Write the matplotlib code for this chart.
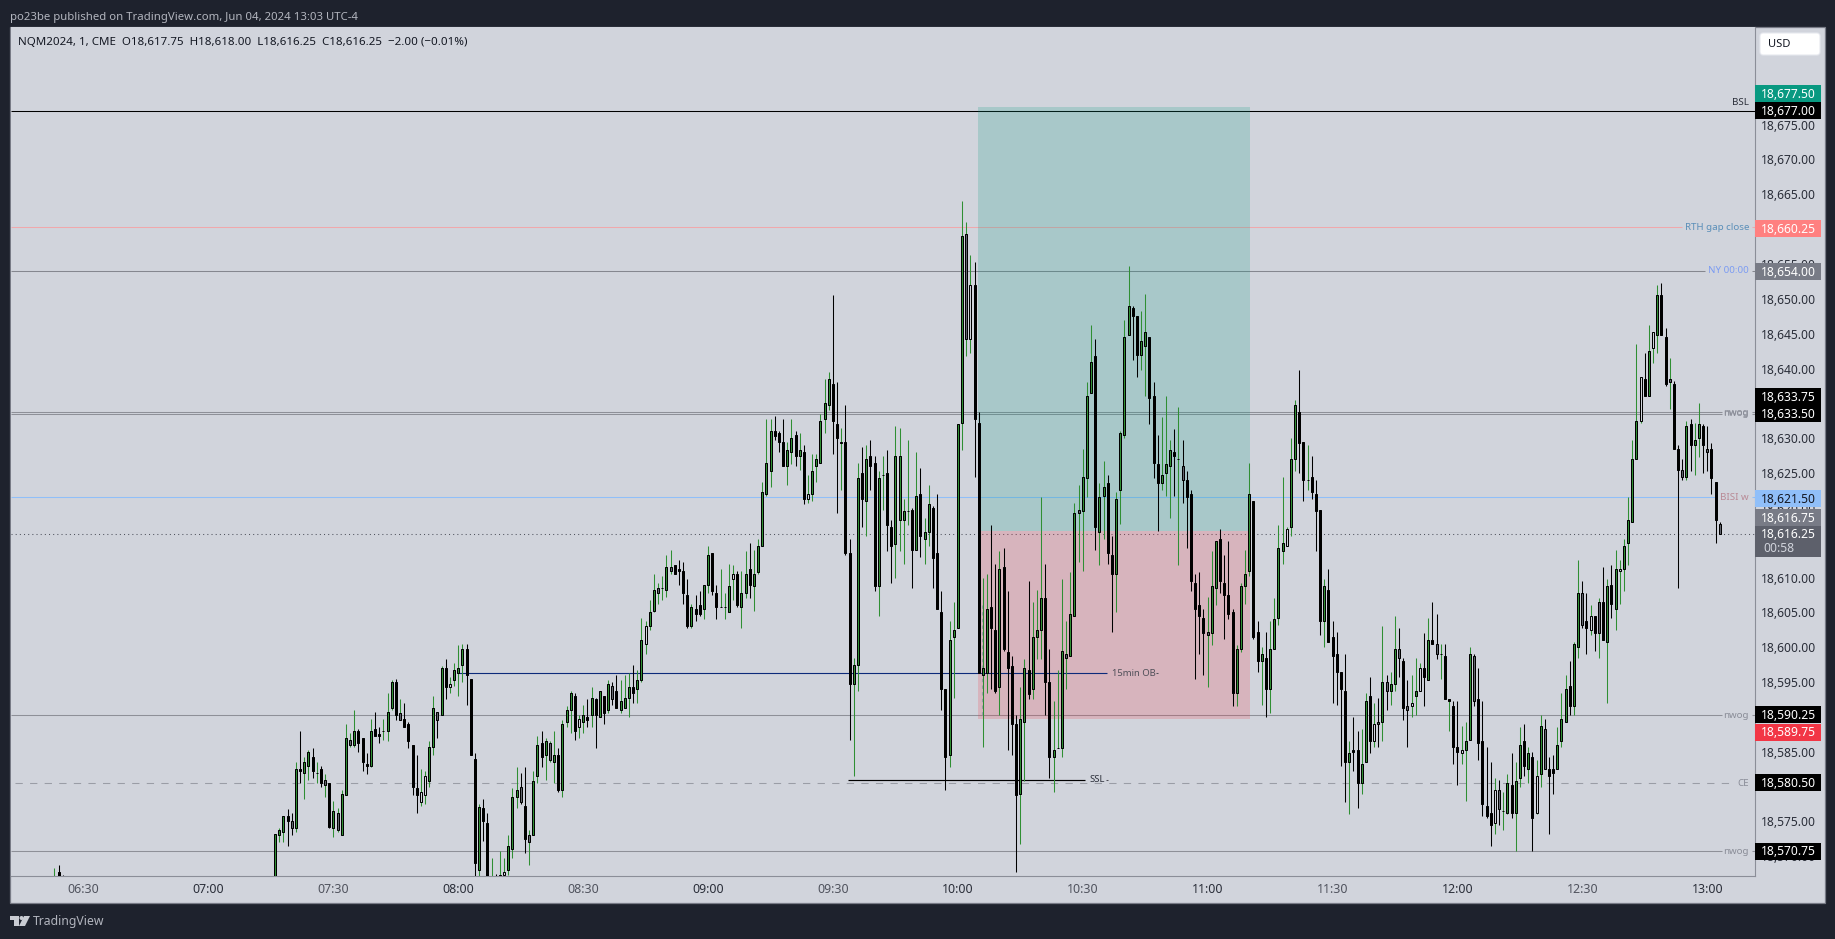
import matplotlib
matplotlib.use("Agg")
import matplotlib.pyplot as plt
from matplotlib.patches import Rectangle, Polygon, Circle, FancyBboxPatch
from matplotlib.transforms import IdentityTransform

# ---------- data ----------
PRICE_BASE = 18000  # the lists below are points above 18,000

bar_minutes = [383, 384, 385] + list(range(436, 784))  # minutes after midnight

bar_highs = [568.25,568.75,567.25,
573.25,574,575.75,576.75,576.25,583.5,588,584.25,585.25,585.5,583.5,583,581.75,580.5,578,577,579.5,589,587.75,591,588.25,587,584.75,589.75,590.75,588.5,589.75,593.5,595.25,595.5,592.5,592,589.25,586,584.5,582.5,582.25,586.5,593,590.75,597.25,598.25,595.75,597.75,600.25,600.5,600.5,595.5,584.75,577.5,578.25,576.25,569.75,567.5,570.75,569.75,573,579.75,582.75,582,582.75,573.75,582.25,587.25,588,587,586.5,588,585.5,589.5,591.5,593.75,593.5,590.25,591.75,592.5,594.25,592.75,593.75,593,595.25,595,596,595.25,596,596.25,597.5,596.75,604.25,603.75,606.75,610.5,609.25,610.25,613.25,614,611.75,612.5,612.25,609.75,606.25,607.5,608,609,614.5,613.5,609,611.25,607.75,612,611.75,611,611,613.75,615,614,615.5,623.75,632.75,632.75,633.25,631,632.75,629.5,632.75,631,630.75,629,624.75,627.75,627.75,633.5,638.5,639.5,650.5,638,631.5,634.75,615.5,598.5,626.5,628.75,629,629.75,627.5,625.25,627.5,628.25,618.25,631.75,631.5,621.25,629.75,620,628,625.75,618.5,623.25,620.25,622,608,594,603.75,606.5,632,664,661,656.25,655.25,633.75,610,610.5,617.5,612,613.75,614.25,608,598.75,590.25,594.25,598.25,609.5,606.5,608.25,621.5,612,599.75,592.25,596.75,609.75,603.75,610.75,620.75,623.25,628.5,638,646.25,644.25,623.5,626.75,624.75,616,622.25,631,647,654.75,649,647.5,648.25,650.75,644.5,638,630.5,633,636,629.75,631.25,634.5,629.75,625.25,622.5,610.5,610.75,605.5,607.25,613.75,615.25,617,613.25,615.25,605.5,600.25,609.25,614,626.5,621,603.75,600,602.25,603.75,607,617.5,624.5,617.25,630,635.5,639.75,629.5,629,627.5,624,619.75,609.75,611.25,603.75,602.25,596.5,599,586.5,590,588,588.25,593.5,595.75,592,592.75,603,596,596.5,604.5,602.75,598.5,595.25,596,598.5,597.75,602,604.25,606.5,604.75,600.5,600.5,592.5,592.25,592.25,588.75,589.25,600,599,597,592.25,585.75,583.5,581.25,581,579.25,581.75,584.75,583.5,588.5,589,585.75,585,583.75,590.25,589.75,584.25,584.5,588.5,593.5,596,598,600.75,612.5,609.5,607.75,606,604.5,607,611.5,609.75,611.75,614,612.5,615.5,621.5,629.75,643.5,638.75,642.25,646.25,645.25,652,652.25,645.75,641.5,638.25,629,627,632.5,632.75,632.25,635,632,631.75,629.25,623.75,618]

bar_body_tops = [564.5,567.75,566,
573.25,573.75,575.75,575.75,575,582.5,582.5,583.5,585,584.25,582,582.5,581,580.5,576.5,576.25,579,587,586.75,588,588,587,583.25,588,588.25,587.5,588,590.75,595,595,590.5,589.75,589,586,579.75,579.25,581.5,585.75,591.25,590.75,597,597,594.75,596.75,597,599.75,599.75,595.5,584,577,577,574.75,564,565,567.25,567.75,571.5,578.5,579.5,580,577.25,573,580.75,586,586.25,586.5,586.25,584.5,584.5,589,591,593.5,593,589.75,590.25,590,592.75,592.5,593.75,593,594.75,594.5,593.75,592.25,592.75,594.25,594.25,595.25,601,603,605,608.25,608.5,608.5,611.5,611.5,611.75,611.25,611,607.5,605.75,605.5,606,609,613.25,613.5,607.75,605.75,605.75,608.75,610.5,610.5,607.75,610.5,611.25,610.5,614.5,622.25,626.5,631,631,630.75,629.5,628.25,630,630.5,628.25,628,622,625.25,627,632.5,635,638.5,637.75,632,629.5,629.5,613.5,597.5,624.25,625,627,627.5,626.5,624.25,624.75,625,617.25,627.5,627.5,619.5,619.5,619.75,621.75,622,616.5,620.5,620,613.5,605,594,601,602.5,632,659,659.25,652,652,632.25,597,605.5,605.75,602.5,611.25,611.5,599.25,597.25,589,589.75,597,596.75,601.5,602.5,607,607,595,585.25,585.5,599.5,599,604.75,619.25,619.75,624.5,636,641,641.75,621.5,623,623.5,613.25,621.25,630.75,644.5,649,648.75,647.5,644,645.25,644.5,636,626.25,624.75,626.25,628.25,628,627,626,624,622,609.25,606,604.25,602.25,608.75,615.25,615.5,609.25,607.5,605,599.75,608.75,610.5,622,621,602.25,599,598.5,599.75,604,614.25,615,617,627,634.75,633.75,629.5,624,624.5,622,619.75,608.75,608.25,601.5,599,596.5,593.75,584.75,585.25,585.25,583.25,592.25,593,589,589.25,595,595,594.75,599.75,599.75,598,591.5,592,593.75,597,597,601,601,600.5,599,598.75,592.5,591.5,585.75,585.25,586.5,599,598.75,592.5,586.5,577.25,576.25,579.5,579.5,576.5,580.5,580.25,580.75,586,586.5,584.75,584.25,581.5,588.75,588.25,582.5,582.5,586,589.75,594,594.5,600.5,607.75,607.75,603.75,604.5,604.5,606.5,606.5,608.75,609,611.25,611.25,614.5,618.25,627,632.5,638.75,638.5,642.5,645.25,650.5,650.5,644.5,638.5,637.75,628.5,625.5,631.75,632,629.75,632,631.75,628.5,628.5,623.75,617.75]

bar_body_bottoms = [563.5,565,565,
555,573,573.5,575,574,574,582.25,582,583,582.25,
582,580.5,580.25,574.25,574,573.75,573,578.75,586,586,
586.25,583.5,583,583,587.25,587.25,588,588,591.25,590.25,
589.5,588.5,586.5,580,578.75,577.75,578.75,580.75,585.75,589.5,
590.25,594.25,594.25,595.25,596.25,597.5,596,584.5,569,568,
575,563,563,564,566.75,567.25,568,571,578.5,577.75,
572.5,572,573,581.5,584.25,584.5,583.75,583.5,579.5,579.5,
589.25,591,588,588.5,589.25,589.5,590.25,590.25,590,590.5,
591,592.5,591.25,591,591.25,592.75,593.5,594,595.25,600.5,
603,605.25,607.75,608.5,608.25,611,610.5,611,607.75,603,
603,604.75,604.75,605.5,609,608,605.75,605.75,605.75,605,
609.75,606,605.75,607.75,609,608.75,610.75,614.5,622,625.25,
630.25,629.5,626,626,628,627.5,627.5,621.25,621.25,622,
626,626.5,632.75,634.75,632.5,630,629.25,613.5,594.75,594.75,
597.5,621.25,621,626,608.75,608.75,624.75,617.5,614.5,614.75,
618.25,618.25,619.5,614,614,616,615.5,616.5,612.75,605.5,
594,584.25,584.5,601.5,602.75,632.25,644.25,644.25,632.75,596.25,
596,596.25,602.75,593.75,594.25,599.75,597,589,578.75,579,
589.25,593.25,594,601.5,602.5,595,584.25,584.25,585.5,585.5,
598.5,598.75,604.5,619.25,619.5,624.25,636.5,617.25,616.5,621.75,
613.5,610.5,610.5,622.5,630.5,644.75,647.5,642,642,643.25,
635.75,626.5,623.5,623.5,625,626,627.5,627,624,621.5,
609.5,605.5,604.5,602,601.75,602,608.5,609.5,607.5,604.75,
593.5,593.5,599.75,608.75,611,601.5,598,598,594,594,
599.75,604.25,613.75,614.5,617.25,627,629.25,624,624,622.25,
619.5,603.75,603.75,600.75,598.75,596.5,594,583.5,583.5,585,
580.5,580.5,583.5,586.5,586.5,589,589.25,593.75,593.75,594.75,
598.5,591.25,591,591.5,593,593.75,595.75,595.25,600.5,599,
599,592.5,592.25,585.75,585,584.75,585.25,586.75,592.25,586.25,
577.5,575.75,574.5,574.75,576.75,576.5,576.25,576.25,576.25,581.25,
583,582.5,575.5,576.25,581.75,582.5,581.5,582,582.5,586.5,
589.25,591.5,591.5,600,603.25,602.75,602.5,602,602,601,
600.75,606.25,605.5,611,611.25,615,618,627,632.5,636,
636,643,644.75,644.75,637.75,638,628.5,625.5,624.5,624.5,
629,629,630,629,628,624.25,618.25,616.25]

bar_lows = [563,564,564,
553,572,572,571.5,573,573.5,580.5,578.25,581,581.25,580.5,580,578.5,574,572.75,573.5,573,578.75,585.75,585.75,585,582.25,581.75,582.75,587.25,586.25,586.75,586.5,591,589.5,589.5,588.5,585.5,578.75,576.25,577.25,577.5,580,584.5,587,590.25,592.5,593.5,594.5,593,595,591.75,584.5,567,566.5,572.25,562,562,563,566,566.5,567.25,569.75,577,577.5,570.5,568.75,573,580.5,582.75,581,583.5,580.5,579.25,578.5,588.5,587.75,586.75,587,587.75,588.5,588.5,585.5,590,589,590.5,591.75,591.25,590.5,591.25,590,592,592,595,599,602.5,605,606.25,606.75,607.25,610.5,610.5,609,606.25,602.75,602.75,603.75,604.5,604,607.75,607.5,604,605.75,604,605,606.75,605.75,602.75,607,607,605.25,610.5,614.5,621.75,623,629.75,628,626,623.25,626.25,626,625.5,620.5,620.75,621,623.75,626.5,630.75,634,627.75,619.25,622.5,613.25,586.75,581.5,593.75,617.25,616,622.5,608,604.5,619.75,613.75,609.25,610,613.75,612,617.5,608.5,614,613,612,614.5,608.5,605.5,591,579.5,582.75,592.75,602.75,628.25,641.75,642.25,624.5,596.25,585.75,593.5,594,593.5,590.25,599.5,585.25,584.5,567.75,571.75,580.75,592.5,592.5,598.25,598.25,590.25,581.25,579.25,585.5,584.25,594,598.75,604.5,612.25,611,621.5,636.5,614,611.75,615.5,612,602.25,605,617.75,630,644.75,641.25,638.75,639.75,636,632,624.25,616.75,622.5,621.75,618.5,621.75,611.75,620.75,614.25,608,595.5,599,596,594.25,600.25,606,607.75,601.25,604,591.5,591.5,599.25,606.25,610.25,601.25,596.5,591.75,590,590.5,599.75,603.25,612,614.5,616,625.25,625,621,622.5,621.25,613.75,601.75,600,600.75,592,591.75,583,577.75,576,582.25,577,579,583.5,584.75,585.75,585.75,586.5,591,591.75,593.75,595.75,589.5,585.75,590,590.25,593.75,591.5,595.25,600.5,598.25,595.5,592.5,588,583.25,580.25,583.25,578,586.75,591.5,583.75,575.75,575.5,571.5,573.25,574.5,573.75,576,575.5,570.75,580,581.5,580.5,570.75,576,580,582.5,573.25,579,582.5,585.75,589.25,590.25,590.25,598.5,602.75,599,601.75,599.5,598.5,601,592,604.25,602.5,606.25,608,611.75,618,627,632.25,636,636,640.75,642.25,644.75,637.5,634.25,628.5,608.5,624,624,625.25,624.75,627.25,625,625.25,622,615,616.25]

# candle look, one letter per bar: u up, d down, k doji, h hollow, g/v grey body (black / green wick)
bar_tones = ("udd"
    "uuudguduud" "kdvduvuuvu" "ddduddkuud" "vddddhhuug" "udhuuudddu"
    "dduduhuuug" "dvuuduvudu" "uudhududud" "ugduuuduuh" "uuvkuvdddd"
    "udduuddkku" "hduuduuuuu" "ddduududhu" "uuuuddhddu" "ududdukddu"
    "uukduduudd" "dduuuuvhdd" "uuddudddd" "u" "uduuudduku" "vuuvuuuduu"
    "dduuuudduu" "ddduuudkgd" "ddddvuuddd" "duuuuddudu" "uuuhuuddkd"
    "ddudddddud" "duudhguguu" "gdghuhdudg" "kdkddhuugd" "dddhgkuduu"
    "dudhugdduu" "uduugdhdvd" "uduhuuuuhd" "uhuddvddgu" "duudgddg")

level_prices = [18677.00, 18660.25, 18654.00, 18633.75, 18633.50, 18621.50, 18590.25, 18570.75]
level_names = ["BSL", "RTH gap close", "NY 00:00", "nwog", "nwog", "BISI w", "nwog", "nwog"]
level_colors = ["#000000", "#f0a8ac", "#85878f", "#8e9098", "#8e9098", "#90bff9", "#8e9098", "#8e9098"]
level_text_colors = ["#2a2e39", "#5b8fb9", "#7c9cf2", "#8a8d98", "#8a8d98", "#b98a96", "#8a8d98", "#8a8d98"]
level_line_ends = [1755, 1682, 1705, 1722, 1722, 1715, 1722, 1722]

ce_price = 18580.50
last_price = 18616.25
box_top, box_entry, box_bottom = 18677.50, 18616.75, 18589.75
ob_price = 18596.25
ssl_price = 18581.00

# price-scale ticks; 18,590 / 18,580 / 18,615 / 18,660 / 18,635 sit fully behind value tags in the reference
price_ticks = [18570, 18575, 18585, 18595, 18600, 18605, 18610, 18620, 18625, 18630, 18640, 18645,
               18650, 18655, 18665, 18670, 18675, 18680]
time_ticks = [390, 420, 450, 480, 510, 540, 570, 600, 630, 660, 690, 720, 750, 780]
time_labels = ["06:30", "07:00", "07:30", "08:00", "08:30", "09:00", "09:30",
               "10:00", "10:30", "11:00", "11:30", "12:00", "12:30", "13:00"]

tag_values = [18677.50, 18677.00, 18660.25, 18654.00, 18633.75, 18633.50, 18621.50,
              18616.75, 18616.25, 18590.25, 18589.75, 18580.50, 18570.75]
tag_colors = ["#089981", "#000000", "#ff8080", "#787b86", "#000000", "#000000", "#90bff9",
              "#787b86", "#5d606b", "#000000", "#f23645", "#000000", "#000000"]
tag_centers_px = [94, 110.7, 228.3, 271.3, 396.7, 413.3, 498.3, 517.5, 533.5, 715, 732, 783, 851]

header_text = "po23be published on TradingView.com, Jun 04, 2024 13:03 UTC-4"
legend_text = "NQM2024, 1, CME  O18,617.75  H18,618.00  L18,616.25  C18,616.25  \u22122.00 (\u22120.01%)"

# ---------- layout ----------
W, H = 1835, 939
FONT = "Noto Sans"
plt.rcParams["font.family"] = [FONT, "DejaVu Sans"]
fig = plt.figure(figsize=(W / 100, H / 100), dpi=100, facecolor="#1e222d")

def fx(px): return px / W
def fy(py): return 1 - py / H

PANEL = "#d1d4dc"
L, R, T, B = 11, 1755, 27, 876
fig.add_artist(Rectangle((fx(10), fy(903)), fx(1825) - fx(10), fy(27) - fy(903),
                         transform=fig.transFigure, facecolor=PANEL, edgecolor="#787b86", lw=0.9, zorder=-5))

ax = fig.add_axes([fx(L), fy(B), fx(R) - fx(L), fy(T) - fy(B)], facecolor=PANEL)
ax.set_zorder(2)

def p2m(px): return 480 + (px - 458.3) / 4.163
def y2p(py): return 18677 - (py - 110.7) / 6.968

ax.set_xlim(p2m(L), p2m(R))
ax.set_ylim(y2p(B), y2p(T))
for s in ("top", "left"):
    ax.spines[s].set_visible(False)
for s in ("bottom", "right"):
    ax.spines[s].set_color("#8b8e98")
    ax.spines[s].set_linewidth(0.8)
ax.set_yticks([])
ax.set_xticks(time_ticks)
ax.set_xticklabels(time_labels, fontsize=8.9, color="#2a2e39")
ax.tick_params(axis="x", length=0, pad=5)
for t, lab in zip(time_ticks, ax.get_xticklabels()):
    if t % 60 == 0:
        lab.set_fontweight("bold")
    else:
        lab.set_color("#50535e")

# position tool
ax.add_patch(Rectangle((p2m(978), box_entry), p2m(1250) - p2m(978), box_top - box_entry,
                       facecolor="#089981", alpha=0.2, lw=0, zorder=3))
ax.add_patch(Rectangle((p2m(978), box_bottom), p2m(1250) - p2m(978), box_entry - box_bottom,
                       facecolor="#f23645", alpha=0.2, lw=0, zorder=3))
ax.plot([p2m(982), p2m(982)], [18606, 18590.3], color="#9a9da6", lw=0.8, ls=(0, (3, 3)), zorder=3.2)

# levels
lw1 = 0.75
for price, name, col, tcol, end in zip(level_prices, level_names, level_colors, level_text_colors, level_line_ends):
    ax.hlines(price, p2m(L), p2m(end), color=col, lw=lw1, zorder=2)
    if name == "BSL":
        ax.text(p2m(1749), price + 1.15, name, ha="right", va="center", fontsize=7.0, color=tcol, zorder=6)
    else:
        ax.text(p2m(1749), price, name, ha="right", va="center", fontsize=7.0, color=tcol, zorder=6)
        ax.hlines(price, p2m(1752), p2m(1755), color=col, lw=lw1, zorder=2)
ax.hlines(ce_price, p2m(15), p2m(1732), color="#9a9da6", lw=0.75, ls=(0, (7, 7)), zorder=2)
ax.text(p2m(1749), ce_price, "CE", ha="right", va="center", fontsize=7.0, color="#8a8d98", zorder=6)
ax.hlines(last_price, p2m(L), p2m(R), color="#50535e", lw=0.75, ls=(0, (1, 3)), zorder=2)

ax.hlines(ob_price, p2m(458), p2m(1107), color="#0c2a7a", lw=0.8, zorder=3.5)
ax.text(p2m(1112), ob_price, "15min OB", ha="left", va="center", fontsize=6.8, color="#4f4f58", zorder=6)
ax.hlines(ob_price, p2m(1156), p2m(1158), color="#4f4f58", lw=0.75, zorder=3.5)
ax.hlines(ssl_price, p2m(848), p2m(1085), color="#000000", lw=0.85, zorder=3.5)
ax.text(p2m(1089), ssl_price, "SSL", ha="left", va="center", fontsize=6.8, color="#2a2e39", zorder=6)
ax.hlines(ssl_price, p2m(1106), p2m(1108), color="#4f4f58", lw=0.75, zorder=3.5)

# candles
GREEN = "#2f8f33"
body_fill = {"u": GREEN, "d": "#000000", "k": "#000000", "h": PANEL, "g": "#62656e", "v": "#62656e"}
wick_col = {"u": GREEN, "d": "#000000", "k": GREEN, "h": GREEN, "g": "#000000", "v": GREEN}
assert len(bar_minutes) == len(bar_highs) == len(bar_lows) == len(bar_body_tops) == len(bar_body_bottoms) == len(bar_tones)
ax.vlines(bar_minutes,
          [PRICE_BASE + v for v in bar_lows], [PRICE_BASE + v for v in bar_highs],
          colors=[wick_col[t] for t in bar_tones], lw=0.75, zorder=4)
ax.bar(bar_minutes, [t - b for t, b in zip(bar_body_tops, bar_body_bottoms)], width=0.48,
       bottom=[PRICE_BASE + v for v in bar_body_bottoms],
       color=[body_fill[t] for t in bar_tones], edgecolor="#000000", linewidth=0.72, zorder=5)

# legend + header
fig.text(fx(18), fy(42.5), legend_text, fontsize=8.3, color="#131722", va="center", ha="left", zorder=10)
fig.text(fx(10), fy(17.5), header_text, fontsize=8.2, color="#b2b5be", va="center", ha="left")
fig.text(fx(33), fy(921), "TradingView", fontsize=8.8, color="#b2b5be", va="center", ha="left")

# price scale
axp = fig.add_axes([fx(R), fy(B), fx(1825) - fx(R), fy(T) - fy(B)], facecolor="none")
axp.set_zorder(3)
axp.set_xlim(R, 1825)
axp.set_ylim(y2p(B), y2p(T))
axp.set_xticks([])
for s in axp.spines.values():
    s.set_visible(False)
axp.set_yticks(price_ticks)
axp.set_yticklabels([f"{v:,.2f}" for v in price_ticks], fontsize=8.7, color="#2a2e39")
axp.tick_params(axis="y", length=0, pad=-44)
axp.set_axisbelow(True)

TAG_H = 17
for val, col, cy in zip(tag_values, tag_colors, tag_centers_px):
    if val == last_price:
        top, height = 526, 31
    else:
        top, height = cy - TAG_H / 2, TAG_H
    axp.add_patch(Rectangle((R, y2p(top + height)), 66, height / 6.968, facecolor=col, lw=0, zorder=5))
    txt_col = "#131722" if col == "#90bff9" else "#ffffff"
    axp.text(1816, y2p(cy + 0.8), f"{val:,.2f}", ha="right", va="center", fontsize=8.7, color=txt_col, zorder=6)
axp.text(1763, y2p(548.5), "00:58", ha="left", va="center", fontsize=8.7, color="#d1d4dc", zorder=6)

# currency button
fig.add_artist(FancyBboxPatch((1760, H - 55), 60, 22, boxstyle="round,pad=0,rounding_size=3",
                              transform=IdentityTransform(), facecolor="#ffffff", edgecolor="#e6e8ee", lw=0.8, zorder=9))
fig.text(fx(1768), fy(44.5), "USD", fontsize=8.0, color="#131722", va="center", ha="left", zorder=10)

# TradingView mark
mark = "#c9ccd3"
def pts(seq): return [(x, H - y) for x, y in seq]
fig.add_artist(Polygon(pts([(10, 916), (19, 916), (19, 926), (14, 926), (14, 920), (10, 920)]),
                       transform=IdentityTransform(), facecolor=mark, lw=0))
fig.add_artist(Circle((21.5, H - 918), 2, transform=IdentityTransform(), facecolor=mark, lw=0))
fig.add_artist(Polygon(pts([(24, 916), (30, 916), (25, 926), (19, 926)]),
                       transform=IdentityTransform(), facecolor=mark, lw=0))

fig.savefig("out.png", dpi=100, facecolor=fig.get_facecolor())
